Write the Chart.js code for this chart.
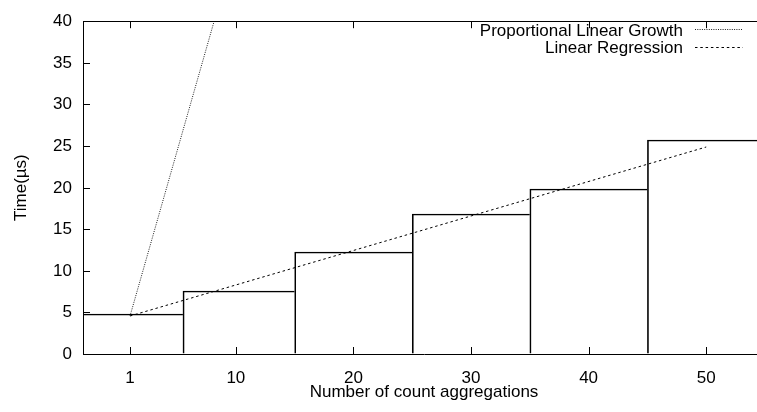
<!DOCTYPE html>
<html>
<head>
<meta charset="utf-8">
<script src="https://cdn.jsdelivr.net/npm/chart.js@4/dist/chart.umd.min.js"></script>
<style>
html,body{margin:0;padding:0;background:#fff;overflow:hidden;}
#wrap{width:757px;height:412px;overflow:hidden;}
canvas{display:block;}
</style>
</head>
<body>
<div id="wrap"><canvas id="c" width="765" height="412"></canvas></div>
<script>
// ---- data ----
const aggregationCounts = [1, 10, 20, 30, 40, 50];
const timeMicros = [4.85, 7.55, 12.2, 16.8, 19.87, 25.67];
const regressionX = [1, 50];
const regressionY = [4.58, 24.85];
const proportionalX = [1, 10];
const proportionalY = [4.6, 49.1];
const xTickValues = [1, 10, 20, 30, 40, 50];
const yTickValues = [0, 5, 10, 15, 20, 25, 30, 35, 40];
const seriesLabels = ['Proportional Linear Growth', 'Linear Regression'];
const axisTitles = { x: 'Number of count aggregations', y: 'Time(\u00b5s)' };

const FONT = "'Liberation Sans', Arial, Helvetica, sans-serif";
Chart.defaults.font.family = FONT;
Chart.defaults.font.size = 17;
Chart.defaults.color = '#000';

const toPoints = (xs, ys) => xs.map((x, i) => ({ x: x, y: ys[i] }));

const frameTicks = {
  id: 'frameTicks',
  afterDatasetsDraw(chart) {
    const { ctx, chartArea: a, scales } = chart;
    ctx.save();
    ctx.strokeStyle = '#000';
    ctx.lineWidth = 1;
    ctx.beginPath();
    ctx.moveTo(a.left, Math.round(a.top) + 0.5);
    ctx.lineTo(a.right, Math.round(a.top) + 0.5);
    const L = 7;
    scales.x.ticks.forEach(t => {
      const px = Math.round(scales.x.getPixelForValue(t.value)) + 0.5;
      ctx.moveTo(px, a.bottom);
      ctx.lineTo(px, a.bottom - L);
      ctx.moveTo(px, a.top);
      ctx.lineTo(px, a.top + L);
    });
    scales.y.ticks.forEach(t => {
      const py = Math.round(scales.y.getPixelForValue(t.value)) + 0.5;
      ctx.moveTo(a.left, py);
      ctx.lineTo(a.left + L, py);
    });
    ctx.stroke();
    ctx.restore();
  }
};

const keyBox = {
  id: 'keyBox',
  afterDraw(chart) {
    const { ctx } = chart;
    ctx.save();
    ctx.font = '17px ' + FONT;
    ctx.fillStyle = '#000';
    ctx.textAlign = 'right';
    ctx.textBaseline = 'alphabetic';
    const lineDs = chart.data.datasets.filter(d => d.type === 'line');
    lineDs.forEach((d, i) => {
      const yText = 35.5 + i * 17.5;
      const yLine = 29.5 + i * 18;
      ctx.fillText(d.label, 683, yText);
      ctx.beginPath();
      ctx.strokeStyle = d.borderColor;
      ctx.lineWidth = d.borderWidth;
      ctx.setLineDash(d.borderDash);
      ctx.moveTo(695, yLine);
      ctx.lineTo(743, yLine);
      ctx.stroke();
    });
    ctx.restore();
  }
};

new Chart(document.getElementById('c'), {
  type: 'line',
  data: {
    datasets: [
      {
        type: 'line',
        label: seriesLabels[0],
        data: toPoints(proportionalX, proportionalY),
        borderColor: '#1e1e1e',
        borderWidth: 1,
        borderDash: [1, 1.3],
        pointRadius: 0,
        fill: false,
        tension: 0,
        clip: 0,
        order: 0
      },
      {
        type: 'line',
        label: seriesLabels[1],
        data: toPoints(regressionX, regressionY),
        borderColor: '#000',
        borderWidth: 1,
        borderDash: [2.5, 2.8],
        pointRadius: 0,
        fill: false,
        tension: 0,
        clip: 0,
        order: 0
      },
      {
        type: 'bar',
        label: 'time',
        data: toPoints(aggregationCounts, timeMicros),
        backgroundColor: 'rgba(255,255,255,0)',
        borderColor: '#000',
        borderWidth: { left: 1, top: 1, right: 0, bottom: 0 },
        borderSkipped: false,
        barThickness: 'flex',
        barPercentage: 1,
        categoryPercentage: 1,
        clip: 0,
        order: 1
      }
    ]
  },
  options: {
    responsive: false,
    animation: false,
    devicePixelRatio: 1,
    layout: { padding: { top: 13, right: 0, left: 0, bottom: 0 } },
    plugins: { legend: { display: false }, tooltip: { enabled: false } },
    scales: {
      x: {
        type: 'linear',
        min: -3,
        max: 55,
        offset: false,
        grid: { display: true, drawOnChartArea: false, drawTicks: false, offset: false },
        border: { display: true, color: '#000', width: 1 },
        ticks: { color: '#000', padding: 14, autoSkip: false, maxRotation: 0, minRotation: 0 },
        afterBuildTicks: s => { s.ticks = xTickValues.map(v => ({ value: v })); },
        afterFit: s => { s.height = 58; },
        title: { display: true, text: axisTitles.x, color: '#000', padding: { top: 0, bottom: 9 } }
      },
      y: {
        type: 'linear',
        min: 0,
        max: 40,
        alignToPixels: true,
        grid: { display: true, drawOnChartArea: false, drawTicks: false },
        border: { display: true, color: '#000', width: 1 },
        ticks: { color: '#000', padding: 11 },
        afterBuildTicks: s => { s.ticks = yTickValues.map(v => ({ value: v })); },
        afterFit: s => { s.width = 83; },
        title: { display: true, text: axisTitles.y, color: '#000', padding: { top: 11, bottom: 0 } }
      }
    }
  },
  plugins: [frameTicks, keyBox]
});
</script>
</body>
</html>
